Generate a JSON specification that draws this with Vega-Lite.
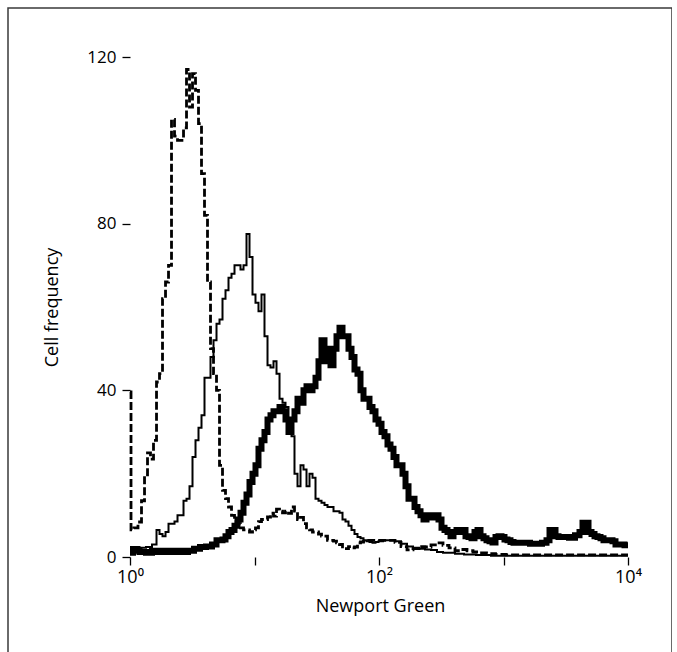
{
  "$schema": "https://vega.github.io/schema/vega-lite/v6.json",
  "width": 664,
  "height": 650,
  "autosize": "none",
  "padding": {"left": 8, "top": 8, "right": 0, "bottom": 0},
  "background": "white",
  "config": {
    "font": "Open Sans",
    "view": {"stroke": "#3a3a3a", "strokeWidth": 1.5},
    "axis": {"grid": false, "domain": false, "tickColor": "black", "tickWidth": 1.3, "labelColor": "black", "titleColor": "black", "titleFontWeight": "normal"}
  },
  "datasets": {
    "counts": [
      {"s": 1, "x": 1.000, "y": 39.6}, {"s": 1, "x": 1.038, "y": 6.5}, {"s": 1, "x": 1.117, "y": 7}, {"s": 1, "x": 1.203, "y": 8.4},
      {"s": 1, "x": 1.272, "y": 13.5}, {"s": 1, "x": 1.345, "y": 19.7}, {"s": 1, "x": 1.421, "y": 25}, {"s": 1, "x": 1.502, "y": 23.5},
      {"s": 1, "x": 1.588, "y": 28}, {"s": 1, "x": 1.679, "y": 42}, {"s": 1, "x": 1.774, "y": 44}, {"s": 1, "x": 1.876, "y": 62},
      {"s": 1, "x": 1.983, "y": 66}, {"s": 1, "x": 2.096, "y": 70}, {"s": 1, "x": 2.215, "y": 105}, {"s": 1, "x": 2.342, "y": 101},
      {"s": 1, "x": 2.475, "y": 100}, {"s": 1, "x": 2.617, "y": 100}, {"s": 1, "x": 2.766, "y": 103}, {"s": 1, "x": 2.924, "y": 117},
      {"s": 1, "x": 3.090, "y": 108}, {"s": 1, "x": 3.267, "y": 116}, {"s": 1, "x": 3.453, "y": 112}, {"s": 1, "x": 3.650, "y": 104},
      {"s": 1, "x": 3.858, "y": 92}, {"s": 1, "x": 4.078, "y": 82}, {"s": 1, "x": 4.311, "y": 66}, {"s": 1, "x": 4.557, "y": 50},
      {"s": 1, "x": 4.817, "y": 44}, {"s": 1, "x": 5.092, "y": 40}, {"s": 1, "x": 5.382, "y": 22}, {"s": 1, "x": 5.689, "y": 16},
      {"s": 1, "x": 6.014, "y": 14}, {"s": 1, "x": 6.357, "y": 12}, {"s": 1, "x": 6.720, "y": 10}, {"s": 1, "x": 7.103, "y": 8.5},
      {"s": 1, "x": 7.508, "y": 8}, {"s": 1, "x": 7.937, "y": 7}, {"s": 1, "x": 8.389, "y": 6.5}, {"s": 1, "x": 8.868, "y": 6.5},
      {"s": 1, "x": 9.374, "y": 6}, {"s": 1, "x": 9.908, "y": 6.5}, {"s": 1, "x": 10.47, "y": 7}, {"s": 1, "x": 11.07, "y": 8.5},
      {"s": 1, "x": 11.70, "y": 9}, {"s": 1, "x": 12.37, "y": 9}, {"s": 1, "x": 13.08, "y": 9.6}, {"s": 1, "x": 13.82, "y": 10.5},
      {"s": 1, "x": 14.61, "y": 9.8}, {"s": 1, "x": 15.45, "y": 11.5}, {"s": 1, "x": 16.33, "y": 11}, {"s": 1, "x": 17.26, "y": 10.6},
      {"s": 1, "x": 18.24, "y": 11}, {"s": 1, "x": 19.28, "y": 10.5}, {"s": 1, "x": 20.38, "y": 12}, {"s": 1, "x": 21.54, "y": 11},
      {"s": 1, "x": 22.78, "y": 9}, {"s": 1, "x": 24.07, "y": 9.5}, {"s": 1, "x": 25.45, "y": 8}, {"s": 1, "x": 26.90, "y": 7},
      {"s": 1, "x": 28.43, "y": 6.5}, {"s": 1, "x": 30.06, "y": 6}, {"s": 1, "x": 31.77, "y": 6}, {"s": 1, "x": 33.58, "y": 5.5},
      {"s": 1, "x": 35.50, "y": 5}, {"s": 1, "x": 37.52, "y": 5}, {"s": 1, "x": 39.66, "y": 4}, {"s": 1, "x": 41.93, "y": 4},
      {"s": 1, "x": 44.32, "y": 3.8}, {"s": 1, "x": 46.85, "y": 3.4}, {"s": 1, "x": 49.52, "y": 3}, {"s": 1, "x": 52.35, "y": 2},
      {"s": 1, "x": 55.33, "y": 2}, {"s": 1, "x": 58.49, "y": 2.5}, {"s": 1, "x": 61.83, "y": 2.2}, {"s": 1, "x": 65.35, "y": 2.4},
      {"s": 1, "x": 69.08, "y": 3.4}, {"s": 1, "x": 73.02, "y": 3.6}, {"s": 1, "x": 77.19, "y": 3.8}, {"s": 1, "x": 81.57, "y": 4},
      {"s": 1, "x": 91.16, "y": 4}, {"s": 1, "x": 101.9, "y": 4}, {"s": 1, "x": 113.8, "y": 4}, {"s": 1, "x": 127.2, "y": 4},
      {"s": 1, "x": 142.1, "y": 3.5}, {"s": 1, "x": 158.8, "y": 2.5}, {"s": 1, "x": 177.4, "y": 1.7}, {"s": 1, "x": 198.3, "y": 2},
      {"s": 1, "x": 221.5, "y": 2.5}, {"s": 1, "x": 247.5, "y": 2.4}, {"s": 1, "x": 276.6, "y": 2.9}, {"s": 1, "x": 309.0, "y": 3.4},
      {"s": 1, "x": 345.3, "y": 2.8}, {"s": 1, "x": 385.8, "y": 2.2}, {"s": 1, "x": 431.1, "y": 1.5}, {"s": 1, "x": 481.7, "y": 1.8},
      {"s": 1, "x": 538.2, "y": 1.5}, {"s": 1, "x": 601.4, "y": 1.2}, {"s": 1, "x": 672.0, "y": 1}, {"s": 1, "x": 793.7, "y": 0.8},
      {"s": 1, "x": 937.4, "y": 0.6}, {"s": 1, "x": 1170, "y": 0.5}, {"s": 1, "x": 1633, "y": 0.5}, {"s": 1, "x": 2843, "y": 0.5},
      {"s": 1, "x": 4952, "y": 0.5}, {"s": 1, "x": 10000, "y": 0.5},

      {"s": 2, "x": 1.000, "y": 2.4}, {"s": 2, "x": 1.117, "y": 2.4}, {"s": 2, "x": 1.272, "y": 2.2}, {"s": 2, "x": 1.421, "y": 2.4},
      {"s": 2, "x": 1.588, "y": 3}, {"s": 2, "x": 1.679, "y": 6.5}, {"s": 2, "x": 1.774, "y": 5.5}, {"s": 2, "x": 1.876, "y": 5},
      {"s": 2, "x": 1.983, "y": 6}, {"s": 2, "x": 2.096, "y": 8}, {"s": 2, "x": 2.215, "y": 8}, {"s": 2, "x": 2.342, "y": 8.5},
      {"s": 2, "x": 2.475, "y": 10}, {"s": 2, "x": 2.617, "y": 10}, {"s": 2, "x": 2.766, "y": 13.5}, {"s": 2, "x": 2.924, "y": 14},
      {"s": 2, "x": 3.090, "y": 17}, {"s": 2, "x": 3.267, "y": 24}, {"s": 2, "x": 3.453, "y": 28}, {"s": 2, "x": 3.650, "y": 31},
      {"s": 2, "x": 3.858, "y": 34}, {"s": 2, "x": 4.078, "y": 43}, {"s": 2, "x": 4.311, "y": 43}, {"s": 2, "x": 4.557, "y": 48},
      {"s": 2, "x": 4.817, "y": 52}, {"s": 2, "x": 5.092, "y": 56}, {"s": 2, "x": 5.382, "y": 57}, {"s": 2, "x": 5.689, "y": 62},
      {"s": 2, "x": 6.014, "y": 64}, {"s": 2, "x": 6.357, "y": 67}, {"s": 2, "x": 6.720, "y": 68}, {"s": 2, "x": 7.103, "y": 70},
      {"s": 2, "x": 7.508, "y": 70}, {"s": 2, "x": 7.937, "y": 69}, {"s": 2, "x": 8.389, "y": 70}, {"s": 2, "x": 8.868, "y": 77.5},
      {"s": 2, "x": 9.374, "y": 72}, {"s": 2, "x": 9.908, "y": 63}, {"s": 2, "x": 10.47, "y": 61}, {"s": 2, "x": 11.07, "y": 59},
      {"s": 2, "x": 11.70, "y": 63}, {"s": 2, "x": 12.37, "y": 53}, {"s": 2, "x": 13.08, "y": 46}, {"s": 2, "x": 13.82, "y": 45.5},
      {"s": 2, "x": 14.61, "y": 47}, {"s": 2, "x": 15.45, "y": 44}, {"s": 2, "x": 16.33, "y": 38}, {"s": 2, "x": 17.26, "y": 37},
      {"s": 2, "x": 18.24, "y": 36}, {"s": 2, "x": 19.28, "y": 33}, {"s": 2, "x": 20.38, "y": 29}, {"s": 2, "x": 21.54, "y": 20},
      {"s": 2, "x": 22.78, "y": 17}, {"s": 2, "x": 24.07, "y": 22}, {"s": 2, "x": 25.45, "y": 21}, {"s": 2, "x": 26.90, "y": 17},
      {"s": 2, "x": 28.43, "y": 20}, {"s": 2, "x": 30.06, "y": 19}, {"s": 2, "x": 31.77, "y": 14}, {"s": 2, "x": 33.58, "y": 13.5},
      {"s": 2, "x": 35.50, "y": 13}, {"s": 2, "x": 37.52, "y": 12.5}, {"s": 2, "x": 39.66, "y": 12}, {"s": 2, "x": 41.93, "y": 12},
      {"s": 2, "x": 44.32, "y": 11}, {"s": 2, "x": 46.85, "y": 11}, {"s": 2, "x": 49.52, "y": 10.6}, {"s": 2, "x": 52.35, "y": 9},
      {"s": 2, "x": 55.33, "y": 8.5}, {"s": 2, "x": 58.49, "y": 7.5}, {"s": 2, "x": 61.83, "y": 6.5}, {"s": 2, "x": 65.35, "y": 5.5},
      {"s": 2, "x": 69.08, "y": 4.8}, {"s": 2, "x": 73.02, "y": 4.5}, {"s": 2, "x": 77.19, "y": 4}, {"s": 2, "x": 81.57, "y": 3.8},
      {"s": 2, "x": 86.23, "y": 3.6}, {"s": 2, "x": 91.16, "y": 3.4}, {"s": 2, "x": 96.36, "y": 3.6}, {"s": 2, "x": 101.9, "y": 3.8},
      {"s": 2, "x": 113.8, "y": 4}, {"s": 2, "x": 127.2, "y": 4}, {"s": 2, "x": 142.1, "y": 3.8}, {"s": 2, "x": 158.8, "y": 3.2},
      {"s": 2, "x": 177.4, "y": 2.5}, {"s": 2, "x": 198.3, "y": 2.2}, {"s": 2, "x": 221.5, "y": 2}, {"s": 2, "x": 247.5, "y": 1.8},
      {"s": 2, "x": 276.6, "y": 1.7}, {"s": 2, "x": 309.0, "y": 1.2}, {"s": 2, "x": 345.3, "y": 1}, {"s": 2, "x": 385.8, "y": 1},
      {"s": 2, "x": 431.1, "y": 0.8}, {"s": 2, "x": 538.2, "y": 0.6}, {"s": 2, "x": 672.0, "y": 0.5}, {"s": 2, "x": 937.4, "y": 0.3},
      {"s": 2, "x": 1633, "y": 0.3}, {"s": 2, "x": 2843, "y": 0.3}, {"s": 2, "x": 4952, "y": 0.3}, {"s": 2, "x": 10000, "y": 0.3},

      {"s": 3, "x": 1.000, "y": 1}, {"s": 3, "x": 1.117, "y": 1.5}, {"s": 3, "x": 1.272, "y": 1.2}, {"s": 3, "x": 1.421, "y": 1},
      {"s": 3, "x": 1.588, "y": 1.5}, {"s": 3, "x": 1.774, "y": 1.2}, {"s": 3, "x": 1.983, "y": 1.5}, {"s": 3, "x": 2.215, "y": 1.2},
      {"s": 3, "x": 2.475, "y": 1.5}, {"s": 3, "x": 2.766, "y": 1.2}, {"s": 3, "x": 3.090, "y": 1.5}, {"s": 3, "x": 3.453, "y": 2},
      {"s": 3, "x": 3.858, "y": 2.4}, {"s": 3, "x": 4.311, "y": 2.5}, {"s": 3, "x": 4.817, "y": 3}, {"s": 3, "x": 5.092, "y": 4},
      {"s": 3, "x": 5.382, "y": 4}, {"s": 3, "x": 5.689, "y": 4.2}, {"s": 3, "x": 6.014, "y": 5}, {"s": 3, "x": 6.357, "y": 6},
      {"s": 3, "x": 6.720, "y": 6.5}, {"s": 3, "x": 7.103, "y": 7.5}, {"s": 3, "x": 7.508, "y": 9}, {"s": 3, "x": 7.937, "y": 10.6},
      {"s": 3, "x": 8.389, "y": 13}, {"s": 3, "x": 8.868, "y": 15}, {"s": 3, "x": 9.374, "y": 18}, {"s": 3, "x": 9.908, "y": 20},
      {"s": 3, "x": 10.47, "y": 22}, {"s": 3, "x": 11.07, "y": 26}, {"s": 3, "x": 11.70, "y": 28}, {"s": 3, "x": 12.37, "y": 30},
      {"s": 3, "x": 13.08, "y": 33}, {"s": 3, "x": 13.82, "y": 34}, {"s": 3, "x": 14.61, "y": 35}, {"s": 3, "x": 15.45, "y": 35},
      {"s": 3, "x": 16.33, "y": 36}, {"s": 3, "x": 17.26, "y": 35}, {"s": 3, "x": 18.24, "y": 33}, {"s": 3, "x": 19.28, "y": 30},
      {"s": 3, "x": 20.38, "y": 33}, {"s": 3, "x": 21.54, "y": 35}, {"s": 3, "x": 22.78, "y": 38}, {"s": 3, "x": 24.07, "y": 37},
      {"s": 3, "x": 25.45, "y": 40}, {"s": 3, "x": 26.90, "y": 41}, {"s": 3, "x": 28.43, "y": 40}, {"s": 3, "x": 30.06, "y": 41},
      {"s": 3, "x": 31.77, "y": 43}, {"s": 3, "x": 33.58, "y": 47}, {"s": 3, "x": 35.50, "y": 52}, {"s": 3, "x": 37.52, "y": 50},
      {"s": 3, "x": 39.66, "y": 47}, {"s": 3, "x": 41.93, "y": 46}, {"s": 3, "x": 44.32, "y": 50}, {"s": 3, "x": 46.85, "y": 53},
      {"s": 3, "x": 49.52, "y": 55}, {"s": 3, "x": 52.35, "y": 53}, {"s": 3, "x": 55.33, "y": 53}, {"s": 3, "x": 58.49, "y": 50},
      {"s": 3, "x": 61.83, "y": 48}, {"s": 3, "x": 65.35, "y": 45}, {"s": 3, "x": 69.08, "y": 44}, {"s": 3, "x": 73.02, "y": 40},
      {"s": 3, "x": 77.19, "y": 38}, {"s": 3, "x": 81.57, "y": 38}, {"s": 3, "x": 86.23, "y": 36}, {"s": 3, "x": 91.16, "y": 35},
      {"s": 3, "x": 96.36, "y": 33}, {"s": 3, "x": 101.9, "y": 32}, {"s": 3, "x": 107.7, "y": 30}, {"s": 3, "x": 113.8, "y": 29},
      {"s": 3, "x": 120.3, "y": 27}, {"s": 3, "x": 127.2, "y": 26}, {"s": 3, "x": 134.4, "y": 24}, {"s": 3, "x": 142.1, "y": 22},
      {"s": 3, "x": 150.2, "y": 22}, {"s": 3, "x": 158.8, "y": 20}, {"s": 3, "x": 167.9, "y": 17}, {"s": 3, "x": 177.4, "y": 14},
      {"s": 3, "x": 187.6, "y": 14}, {"s": 3, "x": 198.3, "y": 12}, {"s": 3, "x": 209.6, "y": 11}, {"s": 3, "x": 221.5, "y": 10},
      {"s": 3, "x": 234.2, "y": 9}, {"s": 3, "x": 247.5, "y": 10}, {"s": 3, "x": 261.7, "y": 10}, {"s": 3, "x": 276.6, "y": 9.5},
      {"s": 3, "x": 292.4, "y": 10}, {"s": 3, "x": 309.0, "y": 9}, {"s": 3, "x": 326.7, "y": 7}, {"s": 3, "x": 345.3, "y": 6.5},
      {"s": 3, "x": 365.0, "y": 6}, {"s": 3, "x": 385.8, "y": 5}, {"s": 3, "x": 407.8, "y": 6}, {"s": 3, "x": 431.1, "y": 6.5},
      {"s": 3, "x": 455.7, "y": 6}, {"s": 3, "x": 481.7, "y": 6.5}, {"s": 3, "x": 509.2, "y": 5}, {"s": 3, "x": 538.2, "y": 4.8},
      {"s": 3, "x": 568.9, "y": 4.5}, {"s": 3, "x": 601.4, "y": 6}, {"s": 3, "x": 635.7, "y": 6.5}, {"s": 3, "x": 672.0, "y": 5},
      {"s": 3, "x": 710.3, "y": 4.5}, {"s": 3, "x": 750.8, "y": 4}, {"s": 3, "x": 793.7, "y": 3.8}, {"s": 3, "x": 838.9, "y": 3.5},
      {"s": 3, "x": 886.8, "y": 4.8}, {"s": 3, "x": 937.4, "y": 5}, {"s": 3, "x": 990.8, "y": 4.8}, {"s": 3, "x": 1047, "y": 4.2},
      {"s": 3, "x": 1107, "y": 4}, {"s": 3, "x": 1170, "y": 3.6}, {"s": 3, "x": 1237, "y": 3.4}, {"s": 3, "x": 1382, "y": 3.4},
      {"s": 3, "x": 1545, "y": 3.4}, {"s": 3, "x": 1726, "y": 3.2}, {"s": 3, "x": 1928, "y": 3.2}, {"s": 3, "x": 2154, "y": 3.4},
      {"s": 3, "x": 2278, "y": 4}, {"s": 3, "x": 2407, "y": 6.5}, {"s": 3, "x": 2545, "y": 6.5}, {"s": 3, "x": 2690, "y": 5},
      {"s": 3, "x": 2843, "y": 4.8}, {"s": 3, "x": 3177, "y": 4.8}, {"s": 3, "x": 3550, "y": 4.6}, {"s": 3, "x": 3966, "y": 5.2},
      {"s": 3, "x": 4193, "y": 6}, {"s": 3, "x": 4432, "y": 8.2}, {"s": 3, "x": 4685, "y": 8.2}, {"s": 3, "x": 4952, "y": 6},
      {"s": 3, "x": 5235, "y": 5.5}, {"s": 3, "x": 5533, "y": 5}, {"s": 3, "x": 5849, "y": 4.8}, {"s": 3, "x": 6183, "y": 4.5},
      {"s": 3, "x": 6535, "y": 4}, {"s": 3, "x": 6908, "y": 4}, {"s": 3, "x": 7302, "y": 4}, {"s": 3, "x": 7719, "y": 3.8},
      {"s": 3, "x": 8157, "y": 3}, {"s": 3, "x": 8623, "y": 3}, {"s": 3, "x": 9116, "y": 3}, {"s": 3, "x": 9636, "y": 2.8},
      {"s": 3, "x": 10000, "y": 2.8}
    ]
  },
  "encoding": {
    "x": {
      "type": "quantitative",
      "scale": {"type": "log", "domain": [0.10473, 22563], "nice": false},
      "axis": {
        "orient": "bottom",
        "offset": -101,
        "values": [1, 10, 100, 1000, 10000],
        "labelExpr": "datum.value == 1 ? '10⁰' : datum.value == 100 ? '10²' : datum.value == 10000 ? '10⁴' : ''",
        "labelOverlap": false,
        "labelFlush": false,
        "labelBound": false,
        "tickSize": 8,
        "labelPadding": 3,
        "labelFontSize": 18,
        "title": "Newport Green",
        "titleFontSize": 18,
        "titleX": 372,
        "titleY": 49,
        "titleBaseline": "middle",
        "titleAlign": "center"
      }
    },
    "y": {
      "type": "quantitative",
      "scale": {"domain": [-24.24, 131.76], "nice": false, "zero": false},
      "axis": {
        "orient": "left",
        "offset": -122,
        "values": [0, 40, 80, 120],
        "tickSize": 8,
        "labelPadding": 6,
        "labelFontSize": 17,
        "title": "Cell frequency",
        "titleFontSize": 18,
        "titleX": -78,
        "titleY": 299,
        "titleBaseline": "middle",
        "titleAlign": "center"
      }
    }
  },
  "layer": [
    {
      "mark": {"type": "rule", "color": "black", "strokeWidth": 1.4},
      "encoding": {"x": {"datum": 1}, "y": {"datum": 0}, "y2": {"datum": 120}}
    },
    {
      "mark": {"type": "rule", "color": "black", "strokeWidth": 1.4},
      "encoding": {"x": {"datum": 1}, "x2": {"datum": 10000}, "y": {"datum": 0}}
    },
    {
      "data": {"name": "counts"},
      "transform": [{"filter": "datum.s == 3"}],
      "mark": {"type": "line", "interpolate": "step", "color": "black", "strokeWidth": 6},
      "encoding": {"x": {"field": "x"}, "y": {"field": "y"}}
    },
    {
      "data": {"name": "counts"},
      "transform": [{"filter": "datum.s == 2"}],
      "mark": {"type": "line", "interpolate": "step", "color": "black", "strokeWidth": 2},
      "encoding": {"x": {"field": "x"}, "y": {"field": "y"}}
    },
    {
      "data": {"name": "counts"},
      "transform": [{"filter": "datum.s == 1"}],
      "mark": {"type": "line", "interpolate": "step", "color": "black", "strokeWidth": 2.8, "strokeDash": [8, 3]},
      "encoding": {"x": {"field": "x"}, "y": {"field": "y"}}
    }
  ]
}
